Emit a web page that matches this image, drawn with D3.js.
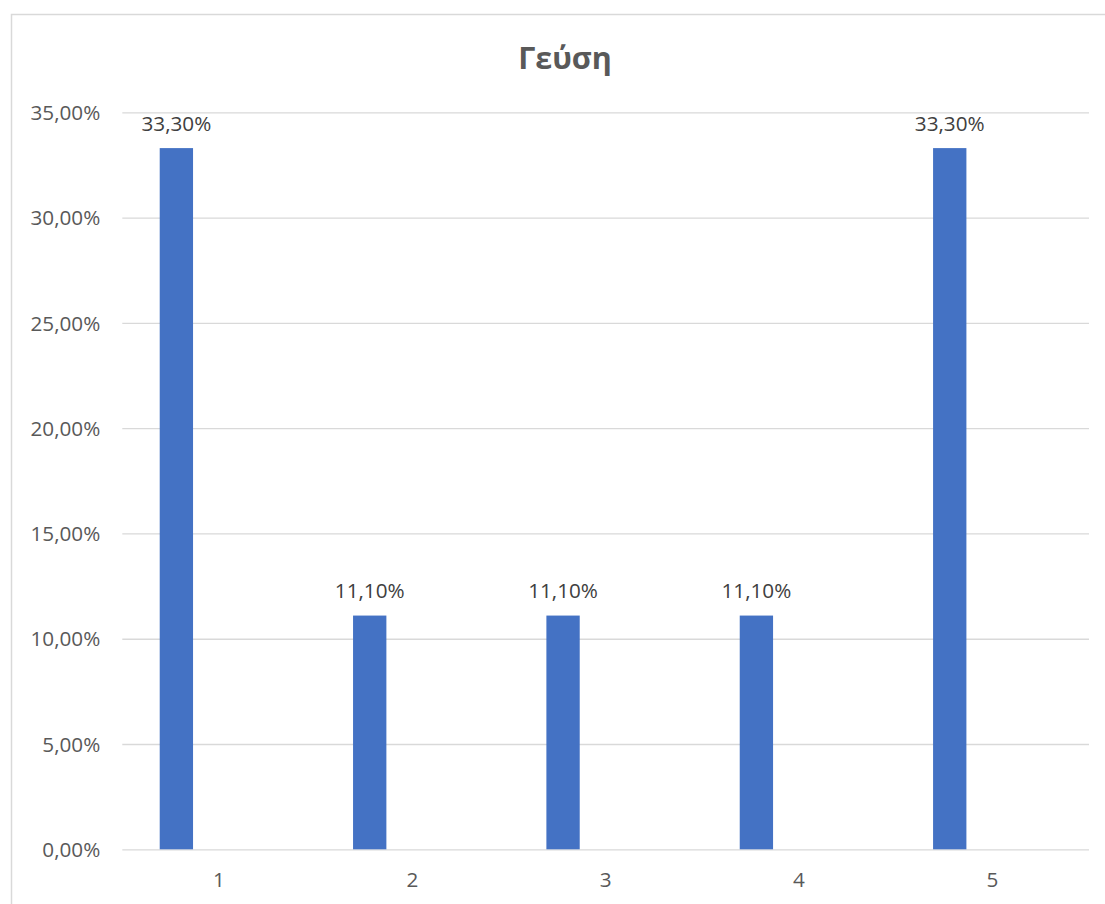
<!DOCTYPE html>
<html>
<head>
<meta charset="utf-8">
<script src="https://cdn.jsdelivr.net/npm/d3@7"></script>
<style>
  html, body { margin: 0; padding: 0; background: #ffffff; }
  svg { display: block; }
  text { font-family: "Open Sans", "Noto Sans", sans-serif; }
</style>
</head>
<body>
<svg id="chart" width="1105" height="904"></svg>
<script>
// Chart data
const title = "Γεύση";
const categories = ["1", "2", "3", "4", "5"];
const values = [0.333, 0.111, 0.111, 0.111, 0.333];
const yTicks = [0, 0.05, 0.10, 0.15, 0.20, 0.25, 0.30, 0.35];

const W = 1105, H = 904;
const plot = { left: 122.3, right: 1089, top: 112.3, bottom: 849.3 };
const labelSize = "20.7px";

// Greek locale number formatting: comma as decimal separator
const locale = d3.formatLocale({ decimal: ",", thousands: ".", grouping: [3], currency: ["", " €"] });
const pct = locale.format(".2%");

const svg = d3.select("#chart");

// Outer chart frame (only top and left edges fall inside the page)
svg.append("rect")
  .attr("x", 11.5).attr("y", 14.5)
  .attr("width", W + 20).attr("height", H + 20)
  .attr("fill", "#ffffff")
  .attr("stroke", "#d9d9d9")
  .attr("stroke-width", 1.5);

const x = d3.scaleBand()
  .domain(categories)
  .range([plot.left, plot.right])
  .paddingInner(0).paddingOuter(0);

const y = d3.scaleLinear()
  .domain([0, 0.35])
  .range([plot.bottom, plot.top]);

// Bar sits in the first slot of a clustered group within each category
const barOffset = 0.1935, barFrac = 0.1724;

// Gridlines and tick labels
const yAxis = d3.axisLeft(y)
  .tickValues(yTicks)
  .tickFormat(pct)
  .tickSize(-(plot.right - plot.left))
  .tickPadding(22);

const gy = svg.append("g")
  .attr("transform", `translate(${plot.left},0)`)
  .call(yAxis);
gy.select(".domain").remove();
gy.selectAll(".tick line")
  .attr("stroke", "#d9d9d9")
  .attr("stroke-width", 1.3);
gy.selectAll(".tick text")
  .attr("fill", "#595959")
  .style("font-size", labelSize)
  .attr("dy", "0.35em");

// Category axis
const xAxis = d3.axisBottom(x).tickSize(0).tickPadding(23);
const gx = svg.append("g")
  .attr("transform", `translate(0,${plot.bottom})`)
  .call(xAxis);
gx.select(".domain").remove();
gx.selectAll(".tick text")
  .attr("fill", "#595959")
  .style("font-size", labelSize);

// Bars
const bars = svg.append("g");
bars.selectAll("rect")
  .data(values)
  .join("rect")
  .attr("x", (d, i) => x(categories[i]) + x.bandwidth() * barOffset)
  .attr("width", x.bandwidth() * barFrac)
  .attr("y", d => y(d))
  .attr("height", d => y(0) - y(d))
  .attr("fill", "#4472c4");

// Data labels
svg.append("g").selectAll("text")
  .data(values)
  .join("text")
  .attr("x", (d, i) => x(categories[i]) + x.bandwidth() * (barOffset + barFrac / 2))
  .attr("y", d => y(d) - 17.5)
  .attr("text-anchor", "middle")
  .attr("fill", "#404040")
  .style("font-size", labelSize)
  .text(d => pct(d));

// Title
svg.append("text")
  .attr("x", 565)
  .attr("y", 69.3)
  .attr("text-anchor", "middle")
  .attr("fill", "#595959")
  .style("font-size", "30.5px")
  .style("font-weight", "bold")
  .text(title);
</script>
</body>
</html>
